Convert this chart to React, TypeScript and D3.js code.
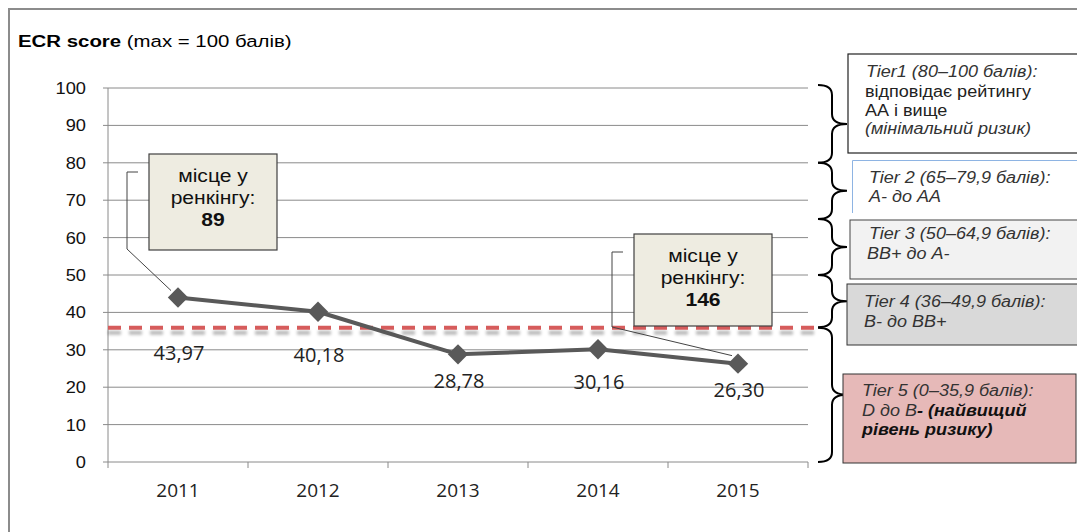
import React from "react";
import { scaleBand, scaleLinear, line } from "d3";

////
// data
const years = ["2011", "2012", "2013", "2014", "2015"];
const scores = [43.97, 40.18, 28.78, 30.16, 26.3];
const scoreLabels = ["43,97", "40,18", "28,78", "30,16", "26,30"];
// where each value label sits, in score units (placed by hand in the original)
const labelLevels = [27.3, 26.7, 19.8, 19.5, 17.4];
const yTicks = [0, 10, 20, 30, 40, 50, 60, 70, 80, 90, 100];
const riskThreshold = 35.9;
// tier ranges [from, to] in score units
const tierRanges = [
  [80, 100],
  [65, 80],
  [50, 65],
  [36, 50],
  [0, 35.9],
];
const rankCallouts = [
  { year: "2011", rank: "89" },
  { year: "2015", rank: "146" },
];

////
const W = 1077;
const H = 532;
const X0 = 108;
const X1 = 808;
const Y0 = 462;
const Y1 = 88;
const SX = 1.14; // the source picture is stretched sideways a bit
const ARIAL = "'Liberation Sans', Arial, sans-serif";
const CALIBRI = "'Open Sans', sans-serif";

const x = scaleBand().domain(years).range([X0, X1]).paddingInner(0).paddingOuter(0);
const y = scaleLinear().domain([0, 100]).range([Y0, Y1]);
const cx = (k) => x(k) + x.bandwidth() / 2;

// stretched text helper
const T = ({ x, y, children, anchor = "start", size = 16, weight = "normal", italic = false, fill = "#000" }) => (
  <text
    transform={`translate(${x},${y}) scale(${SX},1)`}
    textAnchor={anchor}
    fontFamily={ARIAL}
    fontSize={size}
    fontWeight={weight}
    fontStyle={italic ? "italic" : "normal"}
    fill={fill}
  >
    {children}
  </text>
);

const brace = (ya, yb) => {
  const hx = 818;
  const sx = 832;
  const tx = 847;
  const r = 10;
  const ym = (ya + yb) / 2;
  return `M${hx},${ya} Q${sx},${ya} ${sx},${ya + r} L${sx},${ym - r} Q${sx},${ym} ${tx},${ym} Q${sx},${ym} ${sx},${ym + r} L${sx},${yb - r} Q${sx},${yb} ${hx},${yb}`;
};

// tier boxes (annotation layout)
const TS = 15.8;
const TierBoxes = () => (
  <g fill="#222">
    {/* tier 1 */}
    <rect x={848} y={54} width={240} height={99} fill="#fff" stroke="#222" strokeWidth={1.2} />
    <T x={866} y={77} size={TS} italic fill="#333">Tier1 (80–100 балів):</T>
    <T x={865} y={97} size={TS} fill="#222">відповідає рейтингу</T>
    <T x={865} y={116} size={TS} fill="#222"> АА і вище</T>
    <T x={865} y={134} size={TS} italic fill="#333">(мінімальний ризик)</T>
    {/* tier 2 */}
    <rect x={852} y={160} width={240} height={53} fill="#fff" />
    <path d="M852.5,213 V160.5 H1077" fill="none" stroke="#8eb4e3" strokeWidth={1} />
    <T x={869} y={183} size={TS} italic fill="#333">Tier 2 (65–79,9 балів):</T>
    <T x={869} y={202} size={TS} italic fill="#333">А- до АА</T>
    {/* tier 3 */}
    <rect x={850} y={220} width={240} height={59} fill="#f2f2f2" stroke="#444" strokeWidth={1} />
    <T x={869} y={239} size={TS} italic fill="#333">Tier 3 (50–64,9 балів):</T>
    <T x={867} y={259} size={TS} italic fill="#333">ВВ+ до А-</T>
    {/* tier 4 */}
    <rect x={847} y={284} width={240} height={61} fill="#d9d9d9" stroke="#333" strokeWidth={1} />
    <T x={864} y={307} size={TS} italic fill="#333">Tier 4 (36–49,9 балів):</T>
    <T x={864} y={327} size={TS} italic fill="#333">В- до ВВ+</T>
    {/* tier 5 */}
    <rect x={843} y={374} width={233} height={89} fill="#e6b9b8" stroke="#333" strokeWidth={1} />
    <T x={862} y={396} size={TS} italic fill="#333">Tier 5 (0–35,9 балів):</T>
    <text transform={`translate(862,416) scale(${SX},1)`} fontFamily={ARIAL} fontSize={TS} fontStyle="italic" fill="#333">
      D до B<tspan fontWeight="bold" fill="#111">- (найвищий</tspan>
    </text>
    <T x={862} y={435} size={TS} italic weight="bold" fill="#111">рівень ризику)</T>
  </g>
);

const Callout = ({ box, lead, rank }) => (
  <g>
    <path d={lead} fill="none" stroke="#444" strokeWidth={1} />
    <rect x={box[0]} y={box[1]} width={box[2]} height={box[3]} fill="#eeece1" stroke="#404040" strokeWidth={1.2} />
    <T x={box[0] + box[2] / 2} y={box[1] + 28} size={18.5} anchor="middle" fill="#111">місце у</T>
    <T x={box[0] + box[2] / 2} y={box[1] + 50} size={18.5} anchor="middle" fill="#111">ренкінгу:</T>
    <T x={box[0] + box[2] / 2} y={box[1] + 72} size={18.5} anchor="middle" weight="bold" fill="#111">{rank}</T>
  </g>
);

export default function App() {
  const path = line()
    .x((d, i) => cx(years[i]))
    .y((d) => y(d))(scores);
  //
  const p1 = { x: cx(rankCallouts[0].year), y: y(scores[0]) };
  const p2 = { x: cx(rankCallouts[1].year), y: y(scores[4]) };
  const yr = y(riskThreshold);
  //
  return (
    <svg width={W} height={H} style={{ position: "absolute", left: 0, top: 0, background: "#fff" }}>
      <defs>
        <filter id="shadow" filterUnits="userSpaceOnUse" x={X0 - 10} y={yr - 10} width={730} height={30}>
          <feDropShadow dx="0" dy="5" stdDeviation="1.6" floodColor="#000" floodOpacity="0.28" />
        </filter>
      </defs>
      {/* frame */}
      <path d={`M9,${H} V9 H${W}`} fill="none" stroke="#8c8c8c" strokeWidth={2} />
      {/* title */}
      <text transform={`translate(18,47) scale(${SX + 0.06},1)`} fontFamily={ARIAL} fontSize={17}>
        <tspan fontWeight="bold">ECR score</tspan>
        <tspan> (max = 100 балів)</tspan>
      </text>
      {/* grid + y axis */}
      {yTicks.map((t) => (
        <g key={t}>
          {t > 0 && <line x1={X0} x2={X1} y1={y(t)} y2={y(t)} stroke="#8a8a8a" strokeWidth={1} />}
          <line x1={X0 - 5} x2={X0} y1={y(t)} y2={y(t)} stroke="#8a8a8a" />
          <T x={86} y={y(t) + 6} size={16} anchor="end" fill="#111">{t}</T>
        </g>
      ))}
      <line x1={X0} x2={X0} y1={Y1} y2={Y0} stroke="#8a8a8a" />
      {/* x axis */}
      <line x1={X0} x2={X1} y1={Y0} y2={Y0} stroke="#8a8a8a" />
      {[...years.map((k) => x(k)), X1].map((v, i) => (
        <line key={i} x1={v} x2={v} y1={Y0} y2={Y0 + 6} stroke="#8a8a8a" />
      ))}
      {years.map((k) => (
        <text key={k} x={cx(k)} y={497} textAnchor="middle" fontFamily={CALIBRI} fontSize={19} fill="#222">
          {k}
        </text>
      ))}
      {/* risk threshold */}
      <line
        x1={X0}
        x2={822}
        y1={yr}
        y2={yr}
        stroke="#d65b5b"
        strokeWidth={4}
        strokeDasharray="13 8"
        filter="url(#shadow)"
      />
      {/* series */}
      <path d={path} fill="none" stroke="#595959" strokeWidth={4} strokeLinejoin="round" />
      {scores.map((v, i) => (
        <rect
          key={i}
          x={-7.2}
          y={-7.2}
          width={14.4}
          height={14.4}
          fill="#595959"
          transform={`translate(${cx(years[i])},${y(v)}) rotate(45)`}
        />
      ))}
      {scores.map((v, i) => (
        <text
          key={i}
          x={cx(years[i]) + 1}
          y={y(labelLevels[i])}
          textAnchor="middle"
          fontFamily={CALIBRI}
          fontSize={20}
          fill="#222"
        >
          {scoreLabels[i]}
        </text>
      ))}
      {/* callouts */}
      <Callout
        box={[149, 154, 128, 96]}
        lead={`M138,172 H127 V249 L${p1.x - 7},${p1.y - 7}`}
        rank={rankCallouts[0].rank}
      />
      <Callout
        box={[634, 234, 138, 92]}
        lead={`M623,252 H612 V327 L${p2.x - 6},${p2.y - 8}`}
        rank={rankCallouts[1].rank}
      />
      {/* braces */}
      {tierRanges.map(([a, b], i) => (
        <path key={i} d={brace(y(b) + (i === 0 ? -3 : 0), y(a))} fill="none" stroke="#000" strokeWidth={2} />
      ))}
      <TierBoxes />
    </svg>
  );
}
